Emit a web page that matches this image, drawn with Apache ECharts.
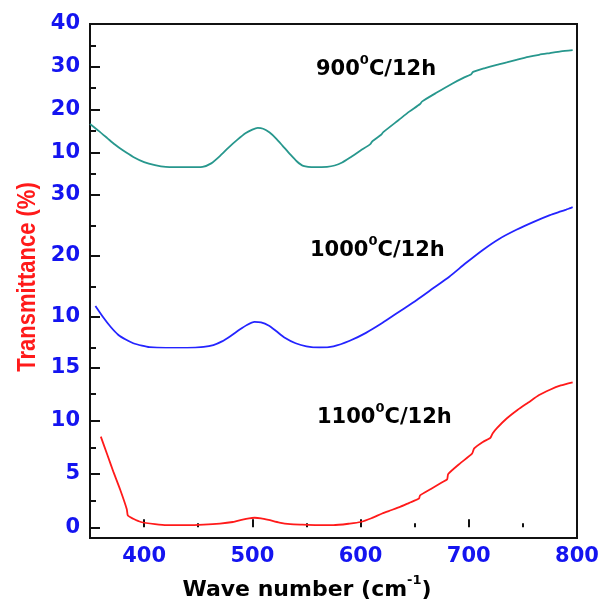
<!DOCTYPE html>
<html>
<head>
<meta charset="utf-8">
<script src="https://cdn.jsdelivr.net/npm/echarts@6/dist/echarts.min.js"></script>
<style>
  html, body { margin: 0; padding: 0; background: #fff; }
  #chart { width: 602px; height: 603px; }
</style>
</head>
<body>
<div id="chart"></div>
<script>
// FTIR transmittance spectra of samples annealed at three temperatures (12 h each)
const w900 = [350, 358, 366, 373, 380, 390, 400, 410, 420, 440, 454, 462, 470, 478, 486, 494, 500, 505, 510, 516, 522, 528, 535, 541, 547, 558, 569, 576, 583, 590, 600, 609, 611, 619, 621, 635, 645, 655, 657, 670, 685, 695, 702, 704, 715, 725, 735, 744, 755, 765, 775, 785, 796];
const t900 = [16.6, 15.0, 13.3, 11.8, 10.5, 8.9, 7.7, 7.0, 6.6, 6.5, 6.6, 7.4, 9.1, 11.1, 12.9, 14.5, 15.3, 15.7, 15.5, 14.6, 13.2, 11.5, 9.5, 7.9, 6.8, 6.5, 6.6, 6.9, 7.6, 8.7, 10.4, 11.9, 12.6, 14.1, 14.7, 17.5, 19.5, 21.3, 21.9, 23.9, 26.1, 27.4, 28.2, 28.8, 29.7, 30.4, 31.0, 31.6, 32.3, 32.8, 33.2, 33.6, 33.9];

const w1000 = [355, 362, 369, 376, 383, 390, 398, 405, 420, 440, 455, 464, 472, 480, 488, 495, 502, 508, 515, 522, 530, 540, 550, 562, 575, 590, 605, 620, 636, 652, 667, 682, 697, 713, 728, 744, 760, 775, 785, 790, 793, 796];
const t1000 = [11.8, 10.0, 8.4, 7.1, 6.3, 5.7, 5.3, 5.05, 4.95, 4.95, 5.1, 5.4, 6.0, 6.9, 7.9, 8.7, 9.2, 9.1, 8.6, 7.7, 6.6, 5.7, 5.2, 5.0, 5.2, 6.1, 7.4, 9.0, 10.9, 12.8, 14.7, 16.6, 18.8, 21.0, 22.8, 24.3, 25.6, 26.7, 27.3, 27.6, 27.8, 28.0];

const w1100 = [360, 366, 372, 378, 384, 385, 390, 397, 410, 421, 440, 455, 470, 482, 490, 497, 502, 508, 515, 525, 535, 545, 560, 575, 590, 600, 610, 620, 628, 636, 645, 654, 655, 665, 675, 680, 681, 692, 703, 705, 713, 720, 722, 726, 735, 745, 755, 765, 775, 785, 796];
const t1100 = [8.5, 6.8, 5.1, 3.5, 1.7, 1.1, 0.8, 0.5, 0.3, 0.2, 0.2, 0.25, 0.35, 0.5, 0.7, 0.85, 0.9, 0.85, 0.7, 0.45, 0.3, 0.25, 0.2, 0.2, 0.35, 0.5, 0.85, 1.3, 1.6, 1.9, 2.3, 2.7, 3.0, 3.6, 4.2, 4.5, 5.0, 6.0, 6.9, 7.4, 8.0, 8.4, 8.8, 9.3, 10.2, 11.0, 11.7, 12.4, 12.9, 13.3, 13.6];

// tick positions
const xMajor = [400, 500, 600, 700, 800];
const xMinor = [450, 550, 650, 750];
const yTopMajor = [10, 20, 30, 40];
const yTopMinor = [5, 15, 25, 35];
const yMidMajor = [10, 20, 30];
const yMidMinor = [5, 15, 25];
const yBotMajor = [0, 5, 10, 15];
const yBotMinor = [2.5, 7.5, 12.5];

const labels = ['900', '1000', '1100'];

const BLUE = '#1414f0';
const RED = '#ff1a1a';
const LABEL_FONT = 'DejaVu Sans';

function pairs(xs, ys) { return xs.map((x, i) => [x, ys[i]]); }

const PLOT_LEFT = 90, PLOT_WIDTH = 487;

function majorY(gridIndex, min, max, ticks) {
  return {
    type: 'value', gridIndex, min, max, position: 'left',
    axisLine: { show: false },
    splitLine: { show: false },
    axisTick: { show: true, inside: true, length: 10, customValues: ticks, lineStyle: { color: '#111', width: 2 } },
    axisLabel: {
      show: true, customValues: ticks, margin: 10, color: BLUE,
      fontFamily: LABEL_FONT, fontWeight: 'bold', fontSize: 21
    }
  };
}
function minorY(gridIndex, min, max, ticks) {
  return {
    type: 'value', gridIndex, min, max, position: 'left',
    axisLine: { show: false },
    splitLine: { show: false },
    axisTick: { show: true, inside: true, length: 6, customValues: ticks, lineStyle: { color: '#111', width: 2 } },
    axisLabel: { show: false }
  };
}
function hiddenX(gridIndex) {
  return { type: 'value', gridIndex, min: 350, max: 800, show: false };
}

const option = {
  animation: false,
  backgroundColor: '#fff',
  grid: [
    { left: PLOT_LEFT, width: PLOT_WIDTH, top: 24, height: 171 },
    { left: PLOT_LEFT, width: PLOT_WIDTH, top: 195, height: 152.5 },
    { left: PLOT_LEFT, width: PLOT_WIDTH, top: 347.5, height: 190.5 },
    { left: PLOT_LEFT, width: PLOT_WIDTH, top: 24, height: 514, show: true,
      borderColor: '#111', borderWidth: 2, backgroundColor: 'transparent' }
  ],
  xAxis: [
    hiddenX(0),
    hiddenX(1),
    {
      type: 'value', gridIndex: 2, min: 350, max: 800, position: 'bottom',
      axisLine: { show: false },
      splitLine: { show: false },
      axisTick: { show: true, inside: true, length: 8, customValues: xMajor, lineStyle: { color: '#111', width: 2 } },
      axisLabel: {
        show: true, customValues: xMajor, margin: 8, color: BLUE,
        fontFamily: LABEL_FONT, fontWeight: 'bold', fontSize: 21
      }
    },
    {
      type: 'value', gridIndex: 2, min: 350, max: 800, position: 'bottom',
      axisLine: { show: false },
      splitLine: { show: false },
      axisTick: { show: true, inside: true, length: 4, customValues: xMinor, lineStyle: { color: '#111', width: 2 } },
      axisLabel: { show: false }
    },
    hiddenX(3)
  ],
  yAxis: [
    majorY(0, 0, 40, yTopMajor),
    minorY(0, 0, 40, yTopMinor),
    majorY(1, 5, 30, yMidMajor),
    minorY(1, 5, 30, yMidMinor),
    majorY(2, -1, 16.86, yBotMajor),
    minorY(2, -1, 16.86, yBotMinor),
    { type: 'value', gridIndex: 3, show: false }
  ],
  series: [
    {
      name: labels[0] + '°C/12h', type: 'line', xAxisIndex: 0, yAxisIndex: 0,
      data: pairs(w900, t900), showSymbol: false, smooth: 0.2,
      lineStyle: { color: '#27978d', width: 1.8 }
    },
    {
      name: labels[1] + '°C/12h', type: 'line', xAxisIndex: 1, yAxisIndex: 2,
      data: pairs(w1000, t1000), showSymbol: false, smooth: 0.2,
      lineStyle: { color: '#2424ff', width: 1.8 }
    },
    {
      name: labels[2] + '°C/12h', type: 'line', xAxisIndex: 2, yAxisIndex: 4,
      data: pairs(w1100, t1100), showSymbol: false, smooth: 0.2,
      lineStyle: { color: RED, width: 1.8 }
    }
  ],
  graphic: []
};

// sample annotations with a superscript "0"
const annRich = {
  b: { fontFamily: LABEL_FONT, fontWeight: 'bold', fontSize: 21, color: '#111', lineHeight: 32 },
  s: { fontFamily: LABEL_FONT, fontWeight: 'bold', fontSize: 13, color: '#111', lineHeight: 14, verticalAlign: 'top' }
};
const annPos = [[316, 70], [310, 251], [317, 418]];
labels.forEach((t, i) => {
  option.graphic.push({
    type: 'text', x: annPos[i][0], y: annPos[i][1],
    style: {
      text: '{b|' + t + '}{s|0}{b|C/12h}', rich: annRich,
      align: 'left', verticalAlign: 'middle'
    }
  });
});

// axis titles
option.graphic.push({
  type: 'text', x: 307, y: 590,
  style: {
    text: '{b|Wave number (cm}{s|-1}{b|)}',
    rich: {
      b: { fontFamily: LABEL_FONT, fontWeight: 'bold', fontSize: 22, color: RED, lineHeight: 32 },
      s: { fontFamily: LABEL_FONT, fontWeight: 'bold', fontSize: 13, color: RED, lineHeight: 14, verticalAlign: 'top' }
    },
    align: 'center', verticalAlign: 'middle'
  }
});
option.graphic.push({
  type: 'text', x: 28, y: 277, rotation: Math.PI / 2, scaleY: 1.2,
  style: {
    text: 'Transmittance (%)',
    fontFamily: 'Liberation Sans', fontWeight: 'bold', fontSize: 22, fill: RED,
    align: 'center', verticalAlign: 'middle'
  }
});

const chart = echarts.init(document.getElementById('chart'), null, { renderer: 'canvas' });
chart.setOption(option);
</script>
</body>
</html>
